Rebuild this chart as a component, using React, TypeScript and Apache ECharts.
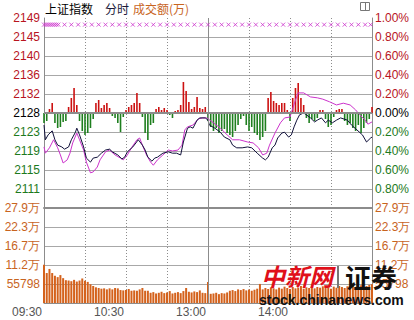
import React, { useEffect, useRef } from 'react';
import * as echarts from 'echarts';

const PREV_CLOSE = 2128.2;
const priceTicks = ['', '2111', '2115', '2119', '2123', '2128', '2132', '2136', '2140', '2145', '2149'];
const pctTicks = ['', '0.80%', '0.60%', '0.40%', '0.20%', '0.00%', '0.20%', '0.40%', '0.60%', '0.80%', '1.00%'];
const VOL_STEP = 55798;
const volTicks = ['', '55798', '11.2万', '16.7万', '22.3万', '27.9万'];
const timeTickMinutes = [0, 60, 120, 180];
const timeTickLabels = ['09:30', '10:30', '13:00', '14:00'];

// [minute since 09:30 (trading minutes), index level]
const indexLine: [number, number][] = [
  [0, 2125.5], [1, 2122.2], [3, 2123.3], [6, 2124.2], [8, 2122.2], [10, 2121.0], [13, 2120.6], [15, 2120.1],
  [18, 2120.6], [20, 2122.2], [23, 2123.9], [24, 2124.8], [26, 2123.3], [29, 2120.6], [31, 2118.1], [34, 2117.2],
  [36, 2118.1], [39, 2118.3], [42, 2119.2], [45, 2119.9], [48, 2120.1], [50, 2119.5], [54, 2118.8], [57, 2117.9],
  [59, 2118.3], [61, 2119.5], [65, 2120.6], [69, 2122.2], [72, 2121.0], [74, 2119.9], [76, 2118.3], [79, 2117.4],
  [81, 2118.1], [83, 2118.3], [87, 2119.2], [91, 2119.5], [94, 2119.2], [97, 2119.2], [100, 2118.8], [102, 2121.7],
  [105, 2124.8], [107, 2125.1], [109, 2124.8], [112, 2126.6], [114, 2127.1], [118, 2127.1], [120, 2126.6], [121, 2125.5],
  [125, 2124.8], [129, 2123.9], [132, 2122.8], [136, 2122.2], [138, 2121.0], [141, 2120.4], [145, 2120.4], [149, 2120.6],
  [152, 2120.4], [156, 2119.2], [160, 2118.1], [162, 2117.7], [164, 2118.3], [167, 2120.4], [169, 2121.0], [171, 2122.6],
  [174, 2123.7], [176, 2123.9], [179, 2122.8], [181, 2123.3], [183, 2125.1], [185, 2126.6], [187, 2127.8], [190, 2128.2],
  [192, 2127.8], [195, 2127.1], [198, 2126.2], [200, 2126.6], [203, 2127.1], [206, 2126.0], [208, 2126.6], [211, 2126.0],
  [214, 2126.6], [217, 2127.1], [222, 2126.6], [225, 2125.5], [229, 2124.4], [233, 2123.3], [236, 2121.7], [239, 2122.6],
  [240, 2122.8],
];

const avgLine: [number, number][] = [
  [0, 2120.6], [1, 2119.2], [4, 2120.4], [7, 2122.2], [10, 2120.4], [12, 2118.8], [14, 2117.0], [17, 2117.7],
  [19, 2119.2], [21, 2121.5], [24, 2123.7], [26, 2122.2], [29, 2119.9], [31, 2117.2], [34, 2114.8], [36, 2115.0],
  [39, 2116.1], [41, 2117.7], [45, 2119.5], [48, 2119.9], [52, 2118.8], [56, 2118.1], [58, 2117.7], [61, 2118.8],
  [64, 2120.4], [68, 2122.2], [70, 2122.6], [72, 2121.0], [75, 2118.8], [78, 2117.2], [80, 2116.5], [83, 2117.7],
  [87, 2118.8], [91, 2119.9], [94, 2119.7], [98, 2119.9], [101, 2121.0], [103, 2124.4], [105, 2125.1], [109, 2125.5],
  [113, 2126.9], [116, 2127.1], [119, 2127.1], [124, 2126.0], [129, 2124.8], [134, 2123.3], [138, 2122.2], [143, 2122.2],
  [149, 2121.7], [153, 2121.5], [157, 2120.4], [160, 2118.8], [163, 2119.2], [165, 2121.0], [169, 2123.7], [173, 2126.0],
  [176, 2127.1], [180, 2127.3], [184, 2131.1], [186, 2132.7], [190, 2132.7], [195, 2131.8], [200, 2131.6], [204, 2131.3],
  [209, 2130.7], [214, 2130.0], [219, 2130.4], [224, 2130.0], [228, 2128.9], [231, 2127.8], [235, 2126.6], [237, 2125.7],
  [240, 2126.2],
];

// red/green strength bars, one every 2 minutes
const breadth: number[] = [
  -10, -8, 4, 10, -10, -15, -14, -9, -8, 6,
  15, 25, 8, -8, -18, -22, -20, -15, -6, 10,
  13, 5, 8, 10, 5, -3, -5, -10, -19, -4,
  3, 6, 8, 10, 20, 10, -4, -20, -27, -12,
  -10, 4, 6, 3, 5, 3, -2, -5, 2, 3,
  8, 31, 22, 11, 4, 6, 16, 5, 4, 6,
  -8, -14, -18, -15, -20, -18, -16, -20, -22, -24,
  -18, -12, -6, -3, -12, -18, -14, -20, -22, -27,
  -24, -18, 15, 21, 12, 10, 8, 10, 10, 3,
  -8, 15, 25, 30, 15, 8, -5, -10, -6, -8,
  -5, 3, 3, -6, -14, -12, -4, 3, 4, 4,
  -8, -12, -10, -15, -18, -12, -20, -15, -10, -6,
  6,
];

// turnover (万), one every 2 minutes
const volume: number[] = [
  112000, 88000, 100000, 88000, 80000, 76000, 82000, 73000, 67000, 66000,
  64000, 68000, 63000, 66000, 72000, 65000, 62000, 55000, 50000, 46000,
  44000, 42000, 43000, 40000, 43000, 40000, 44000, 43000, 38000, 37000,
  38000, 41000, 36000, 37000, 36000, 40000, 44000, 36000, 36000, 30000,
  32000, 28000, 30000, 33000, 29000, 31000, 35000, 28000, 30000, 32000,
  29000, 35000, 44000, 33000, 31000, 34000, 32000, 37000, 30000, 29000,
  62000, 27000, 28000, 30000, 26000, 29000, 28000, 31000, 36000, 38000,
  35000, 40000, 38000, 41000, 37000, 40000, 36000, 39000, 42000, 56000,
  40000, 44000, 41000, 46000, 43000, 40000, 45000, 42000, 48000, 44000,
  41000, 47000, 43000, 45000, 50000, 42000, 46000, 44000, 48000, 43000,
  47000, 45000, 49000, 44000, 46000, 42000, 48000, 45000, 50000, 47000,
  44000, 49000, 46000, 51000, 45000, 48000, 52000, 47000, 50000, 53000,
  55000,
];

const markerMinutes = [
  0, 1.5, 3, 4.5, 6, 7.5, 9, 10.5, 15, 20, 25, 30, 35, 40, 45, 50, 55, 60, 65, 70, 75, 80, 85, 90, 95,
  100, 105, 110, 115, 120, 125, 130, 135, 140, 145, 150, 155, 160, 165, 170, 175, 180, 185, 190, 195,
  200, 205, 210, 215, 220, 225, 230, 235, 239,
];
const MARKER_PCT = 0.93;

const RED = '#b8141e';
const GREEN = '#1d7a1d';
const BROWN = '#c8641e';
const GRID = '#a8a8a8';
const AXIS = '#8c8c8c';

const toPct = (p: number) => (p / PREV_CLOSE - 1) * 100;

export default function App() {
  const ref = useRef<HTMLDivElement>(null);
  useEffect(() => {
    if (!ref.current) return;
    const chart = echarts.init(ref.current, undefined, { renderer: 'svg' });
    const labelFont = { fontSize: 12, fontFamily: 'Arial' };
    const pctColor = (v: any) => {
      const n = parseFloat(v);
      return n > 0.001 ? RED : n < -0.001 ? GREEN : '#000';
    };
    const xAxisBase = (grid: number, showLabels: boolean, width: number) => ({
      gridIndex: grid,
      type: 'value',
      min: 0,
      max: 240,
      interval: 30,
      axisLine: { show: true, onZero: false, lineStyle: { color: AXIS, width } },
      axisTick: { show: false },
      axisLabel: showLabels
        ? {
            show: true,
            ...labelFont,
            color: '#555',
            margin: 3,
            align: 'right',
            padding: [0, 2, 0, 0],
            formatter: (v: number) => {
              const k = timeTickMinutes.indexOf(Math.round(v));
              return k >= 0 ? timeTickLabels[k] : '';
            },
          }
        : { show: false },
      splitLine: {
        show: true,
        showMinLine: false,
        showMaxLine: false,
        lineStyle: { color: AXIS, type: [1, 2] },
      },
    });
    const priceY = (pos: 'left' | 'right', ticks: string[], split: boolean) => ({
      gridIndex: 0,
      type: 'value',
      position: pos,
      min: -1,
      max: 1,
      interval: 0.2,
      axisLine: { show: true, onZero: false, lineStyle: { color: AXIS } },
      axisTick: { show: false },
      axisLabel: {
        ...labelFont,
        margin: pos === 'left' ? 4 : 3,
        color: pctColor,
        formatter: (v: number) => ticks[Math.round((v + 1) / 0.2)] ?? '',
      },
      splitLine: { show: split, showMinLine: false, showMaxLine: false, lineStyle: { color: GRID } },
    });
    const volY = (pos: 'left' | 'right', split: boolean) => ({
      gridIndex: 1,
      type: 'value',
      position: pos,
      min: 0,
      max: VOL_STEP * 5,
      interval: VOL_STEP,
      axisLine: { show: true, onZero: false, lineStyle: { color: AXIS } },
      axisTick: { show: false },
      axisLabel: {
        ...labelFont,
        margin: pos === 'left' ? 4 : 3,
        color: BROWN,
        formatter: (v: number) => volTicks[Math.round(v / VOL_STEP)] ?? '',
      },
      splitLine: { show: split, showMinLine: false, showMaxLine: false, lineStyle: { color: GRID } },
    });

    const option: any = {
      animation: false,
      grid: [
        { left: 44, top: 18, width: 328, height: 190 },
        { left: 44, top: 208, width: 328, height: 95 },
      ],
      xAxis: [xAxisBase(0, false, 2), xAxisBase(1, true, 1)],
      yAxis: [
        priceY('left', priceTicks, true),
        priceY('right', pctTicks, false),
        { gridIndex: 0, type: 'value', min: -95, max: 95, show: false },
        volY('left', true),
        volY('right', false),
      ],
      series: [
        {
          type: 'bar',
          xAxisIndex: 0,
          yAxisIndex: 2,
          barWidth: 1.6,
          data: breadth.map((v, i) => [i * 2, v]),
          itemStyle: { color: (p: any) => (p.value[1] >= 0 ? '#cc1111' : '#1f7f1f') },
          z: 2,
        },
        {
          type: 'line',
          xAxisIndex: 0,
          yAxisIndex: 0,
          symbol: 'none',
          data: avgLine.map(([m, p]) => [m, toPct(p)]),
          lineStyle: { color: '#cc33cc', width: 1 },
          z: 3,
        },
        {
          type: 'line',
          xAxisIndex: 0,
          yAxisIndex: 0,
          symbol: 'none',
          data: indexLine.map(([m, p]) => [m, toPct(p)]),
          lineStyle: { color: '#10103a', width: 1 },
          z: 4,
          markLine: {
            silent: true,
            symbol: 'none',
            label: { show: false },
            data: [
              { yAxis: 0, lineStyle: { color: '#8c8c8c', width: 2, type: 'solid' } },
              { xAxis: 120, lineStyle: { color: AXIS, width: 1, type: 'solid' } },
            ],
          },
        },
        {
          type: 'scatter',
          xAxisIndex: 0,
          yAxisIndex: 0,
          symbol: 'path://M0 0L8 8M8 0L0 8',
          symbolSize: 4,
          data: markerMinutes.map((m) => [m, MARKER_PCT]),
          itemStyle: { color: 'none', borderColor: '#cc33cc', borderWidth: 1 },
          z: 5,
        },
        {
          type: 'bar',
          xAxisIndex: 1,
          yAxisIndex: 3,
          barWidth: 2,
          data: volume.map((v, i) => [i * 2, v]),
          itemStyle: { color: '#d4621c' },
          markLine: {
            silent: true,
            symbol: 'none',
            label: { show: false },
            data: [{ xAxis: 120, lineStyle: { color: AXIS, width: 1, type: 'solid' } }],
          },
        },
      ],
      graphic: [
        { type: 'text', x: 45, y: 8, z: 50, style: { text: '上证指数', font: '12px "Noto Sans CJK SC"', fill: '#000', verticalAlign: 'middle' } },
        { type: 'text', x: 105, y: 8, z: 50, style: { text: '分时', font: '12px "Noto Sans CJK SC"', fill: '#1a1a3a', verticalAlign: 'middle' } },
        { type: 'text', x: 133, y: 8, z: 50, style: { text: '成交额(万)', font: '12px "Noto Sans CJK SC"', fill: BROWN, verticalAlign: 'middle' } },
        { type: 'rect', z: 50, shape: { x: 360.5, y: 2.5, width: 9, height: 8 }, style: { fill: 'none', stroke: '#777', lineWidth: 1 } },
        { type: 'line', z: 50, shape: { x1: 365.5, y1: 2.5, x2: 365.5, y2: 10.5 }, style: { stroke: '#777', lineWidth: 1 } },
        { type: 'text', x: 261, y: 275, z: 100, style: { text: '中新网', font: 'italic bold 24px "Noto Sans CJK SC"', fill: '#e0101a', verticalAlign: 'middle' } },
        { type: 'rect', z: 100, shape: { x: 337, y: 266, width: 2, height: 22 }, style: { fill: '#777' } },
        { type: 'text', x: 345, y: 276, z: 100, style: { text: '证券', font: 'bold 26px "Noto Sans CJK SC"', fill: '#111', verticalAlign: 'middle' } },
        { type: 'text', x: 259, y: 300, z: 100, style: { text: 'stock.chinanews.com', font: 'bold 14px Arial', fill: '#111', verticalAlign: 'middle' } },
      ],
    };
    chart.setOption(option);
    return () => chart.dispose();
  }, []);
  return <div ref={ref} style={{ width: 414, height: 320, position: 'absolute', left: 0, top: 0, background: '#fff' }} />;
}
